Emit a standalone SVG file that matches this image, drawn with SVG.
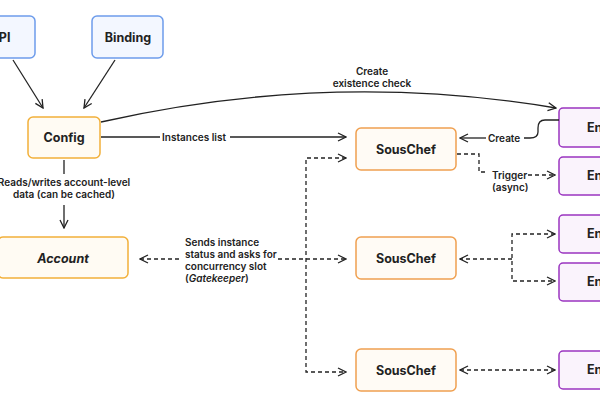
<svg xmlns="http://www.w3.org/2000/svg" width="600" height="400" viewBox="0 0 600 400">
<style>
text{font-family:Inter,"Liberation Sans",sans-serif;font-weight:600;fill:#222;}
.t{font-size:12.5px;font-weight:700;text-anchor:middle;}
.e{font-size:12.5px;font-weight:700;}
.l{font-size:10px;text-anchor:middle;}
.blue{fill:#f3f7ff;stroke:#6d9ceb;stroke-width:1.5;}
.or{fill:#fffbf3;stroke:#f2b03a;stroke-width:1.5;}
.or2{fill:#fffbf5;stroke:#f0a050;stroke-width:1.5;}
.pu{fill:#faf3fc;stroke:#9a35c0;stroke-width:1.5;}
.c{fill:none;stroke:#222;stroke-width:1.3;}
.d{stroke-dasharray:4 3;}
</style>
<defs>
<marker id="a" viewBox="0 0 10 10" refX="9" refY="5" markerWidth="10" markerHeight="10" orient="auto-start-reverse" markerUnits="userSpaceOnUse"><path d="M1,1 L9,5 L1,9" fill="none" stroke="#222" stroke-width="1.3"/></marker>
</defs>
<rect width="600" height="400" fill="#fff"/>
<g id="api"><rect class="blue" x="-20" y="16" width="55" height="42" rx="5"/><text class="t" x="0" y="42">API</text></g>
<g id="binding"><rect class="blue" x="92" y="16" width="71" height="42" rx="5"/><text class="t" x="128" y="42">Binding</text></g>
<g id="config"><rect class="or" x="28" y="117" width="72" height="41" rx="5"/><text class="t" x="64" y="142">Config</text></g>
<g id="account"><rect class="or" x="-2" y="237" width="130" height="41" rx="5"/><text class="t" x="63" y="263" font-style="italic">Account</text></g>
<g id="souschef1"><rect class="or2" x="356" y="128" width="100" height="42" rx="5"/><text class="t" x="406" y="154">SousChef</text></g>
<g id="souschef2"><rect class="or2" x="356" y="237" width="100" height="42" rx="5"/><text class="t" x="406" y="263">SousChef</text></g>
<g id="souschef3"><rect class="or2" x="356" y="349" width="100" height="42" rx="5"/><text class="t" x="406" y="375">SousChef</text></g>
<g id="engine1"><rect class="pu" x="559" y="108" width="60" height="39" rx="4"/><text class="e" x="587" y="132">Engine</text></g>
<g id="engine2"><rect class="pu" x="559" y="157" width="60" height="38" rx="4"/><text class="e" x="587" y="180">Engine</text></g>
<g id="engine3"><rect class="pu" x="559" y="215" width="60" height="38" rx="4"/><text class="e" x="587" y="238">Engine</text></g>
<g id="engine4"><rect class="pu" x="559" y="263" width="60" height="38" rx="4"/><text class="e" x="587" y="286">Engine</text></g>
<g id="engine5"><rect class="pu" x="559" y="351" width="60" height="38" rx="4"/><text class="e" x="587" y="374">Engine</text></g>
<g id="connectors">
<path class="c" d="M13,60 L43,108" marker-end="url(#a)"/>
<path class="c" d="M115,60 L84,108" marker-end="url(#a)"/>
<path class="c" d="M101,122 Q330,70 556,108" marker-end="url(#a)"/>
<rect x="318" y="64" width="108" height="26" fill="#fff"/>
<text class="l" x="372" y="75">Create</text>
<text class="l" x="372" y="87">existence check</text>
<path class="c" d="M101,137 L346,137" marker-end="url(#a)"/>
<rect x="160" y="130" width="70" height="14" fill="#fff"/>
<text class="l" x="194" y="141">Instances list</text>
<path class="c" d="M64,160 L64,174 M64,205 L64,228" marker-end="url(#a)"/>
<text class="l" x="64" y="186">Reads/writes account-level</text>
<text class="l" x="64" y="198">data (can be cached)</text>
<path class="c d" d="M140,259 L180,259 M278,259 L346,259" marker-start="url(#a)" marker-end="url(#a)"/>
<path class="c d" d="M346,158 L306,158 L306,372 L346,372" marker-start="url(#a)" marker-end="url(#a)"/>
<text x="185" y="246" font-size="10">Sends instance</text>
<text x="185" y="258" font-size="10">status and asks for</text>
<text x="185" y="270" font-size="10">concurrency slot</text>
<text x="185" y="282" font-size="10">(<tspan font-style="italic">Gatekeeper</tspan>)</text>
<path class="c" d="M559,120 L545,120 Q538,120 538,128 L538,132 Q538,138 530,138 L524,138"/>
<path class="c" d="M486,138 L460,138" marker-end="url(#a)"/>
<text x="488" y="142" font-size="10">Create</text>
<path class="c d" d="M457,154 L479,154 L479,172 L488,172"/>
<path class="c d" d="M528,175 L555,175" marker-end="url(#a)"/>
<text x="492" y="179" font-size="10">Trigger</text>
<text x="492" y="191" font-size="10">(async)</text>
<path class="c d" d="M512,259 L460,259" marker-end="url(#a)"/>
<path class="c d" d="M555,234 L512,234 L512,281 L555,281" marker-start="url(#a)" marker-end="url(#a)"/>
<path class="c d" d="M460,370 L555,370" marker-start="url(#a)" marker-end="url(#a)"/>
</g>
</svg>
